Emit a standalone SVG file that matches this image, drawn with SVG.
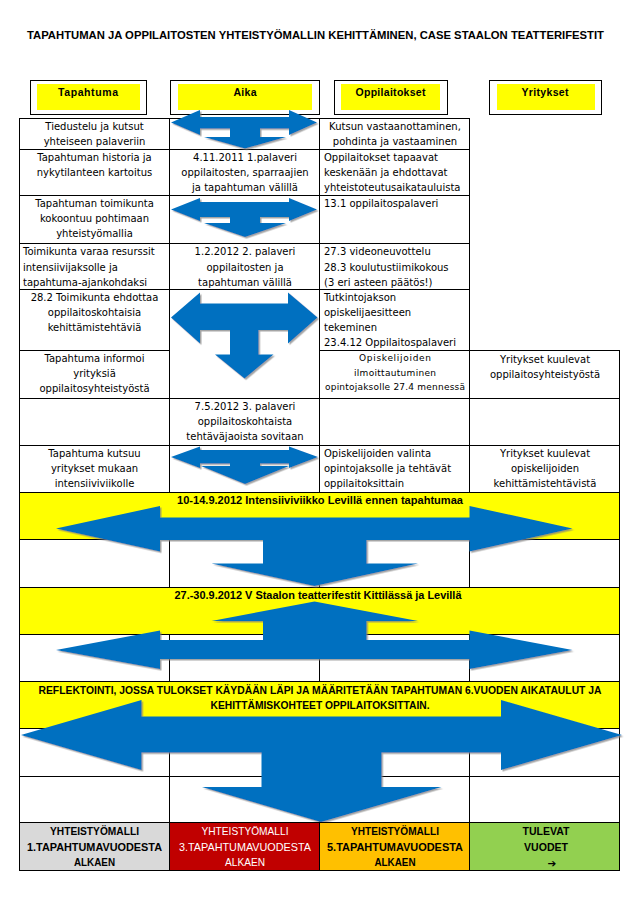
<svg xmlns="http://www.w3.org/2000/svg" width="643" height="905" viewBox="0 0 643 905">
<style>
.t{font-family:"DejaVu Sans","Liberation Sans",sans-serif;font-size:10px;fill:#000}
.c{text-anchor:middle}
.sm{font-size:9px}
.b{font-family:"Liberation Sans",Arial,sans-serif;font-weight:bold;font-size:10.5px;fill:#000;text-anchor:middle}
.w{font-family:"Liberation Sans",Arial,sans-serif;font-size:10.5px;fill:#fff;text-anchor:middle}
.cell{fill:#fff;stroke:#000;stroke-width:1}
.yb{fill:#ffff00;stroke:#000;stroke-width:1}
.hb{fill:#fff;stroke:#000;stroke-width:1}
.hy{fill:#ffff00}
.arr{fill:#0070c0;filter:url(#sh)}
</style>
<defs>
<filter id="sh" x="-5%" y="-5%" width="115%" height="115%">
<feDropShadow dx="1.5" dy="1.5" stdDeviation="0.7" flood-color="#7f7f7f" flood-opacity="0.7"/>
</filter>
</defs>
<rect width="643" height="905" fill="#fff"/>
<text id="title" class="b" x="315.5" y="39" font-size="11" textLength="577" lengthAdjust="spacingAndGlyphs">TAPAHTUMAN JA OPPILAITOSTEN YHTEISTYÖMALLIN KEHITTÄMINEN, CASE STAALON TEATTERIFESTIT</text>

<g id="table">
<g id="r1">
<rect class="cell" x="19.5" y="118.5" width="150" height="31"/>
<rect class="cell" x="169.5" y="118.5" width="150" height="31"/>
<rect class="cell" x="319.5" y="118.5" width="150" height="31"/>
<text class="t c" x="94.5" y="130">Tiedustelu ja kutsut</text>
<text class="t c" x="94.5" y="145">yhteiseen palaveriin</text>
<text class="t c" x="395" y="130">Kutsun vastaanottaminen,</text>
<text class="t c" x="395" y="145">pohdinta ja vastaaminen</text>
</g>
<g id="r2">
<rect class="cell" x="19.5" y="149.5" width="150" height="46"/>
<rect class="cell" x="169.5" y="149.5" width="150" height="46"/>
<rect class="cell" x="319.5" y="149.5" width="150" height="46"/>
<text class="t c" x="94.5" y="161">Tapahtuman historia ja</text>
<text class="t c" x="94.5" y="176">nykytilanteen kartoitus</text>
<text class="t c" x="245" y="161">4.11.2011 1.palaveri</text>
<text class="t c" x="245" y="176">oppilaitosten, sparraajien</text>
<text class="t c" x="245" y="191">ja tapahtuman välillä</text>
<text class="t" x="324" y="161">Oppilaitokset tapaavat</text>
<text class="t" x="324" y="176">keskenään ja ehdottavat</text>
<text class="t" x="324" y="191">yhteistoteutusaikatauluista</text>
</g>
<g id="r3">
<rect class="cell" x="19.5" y="195.5" width="150" height="48"/>
<rect class="cell" x="169.5" y="195.5" width="150" height="48"/>
<rect class="cell" x="319.5" y="195.5" width="150" height="48"/>
<text class="t c" x="94.5" y="207">Tapahtuman toimikunta</text>
<text class="t c" x="94.5" y="222">kokoontuu pohtimaan</text>
<text class="t c" x="94.5" y="237">yhteistyömallia</text>
<text class="t" x="324" y="207">13.1 oppilaitospalaveri</text>
</g>
<g id="r4">
<rect class="cell" x="19.5" y="243.5" width="150" height="46"/>
<rect class="cell" x="169.5" y="243.5" width="150" height="46"/>
<rect class="cell" x="319.5" y="243.5" width="150" height="46"/>
<text class="t" x="23" y="255">Toimikunta varaa resurssit</text>
<text class="t" x="23" y="270.5">intensiivijaksolle ja</text>
<text class="t" x="23" y="286">tapahtuma-ajankohdaksi</text>
<text class="t c" x="245" y="255">1.2.2012 2. palaveri</text>
<text class="t c" x="245" y="270.5">oppilaitosten ja</text>
<text class="t c" x="245" y="286">tapahtuman välillä</text>
<text class="t" x="324" y="255">27.3 videoneuvottelu</text>
<text class="t" x="324" y="270.5">28.3 koulutustiimikokous</text>
<text class="t" x="324" y="286">(3 eri asteen päätös!)</text>
</g>
<g id="r5">
<rect class="cell" x="19.5" y="289.5" width="150" height="61"/>
<rect class="cell" x="169.5" y="289.5" width="150" height="109"/>
<rect class="cell" x="319.5" y="289.5" width="150" height="61"/>
<text class="t c" x="94.5" y="301">28.2 Toimikunta ehdottaa</text>
<text class="t c" x="94.5" y="316">oppilaitoskohtaisia</text>
<text class="t c" x="94.5" y="331">kehittämistehtäviä</text>
<text class="t" x="324" y="301">Tutkintojakson</text>
<text class="t" x="324" y="316">opiskelijaesitteen</text>
<text class="t" x="324" y="331">tekeminen</text>
<text class="t" x="324" y="346">23.4.12 Oppilaitospalaveri</text>
</g>
<g id="r6">
<rect class="cell" x="19.5" y="350.5" width="150" height="48"/>
<rect class="cell" x="319.5" y="350.5" width="150" height="48"/>
<rect class="cell" x="469.5" y="350.5" width="150" height="48"/>
<text class="t c" x="94.5" y="362">Tapahtuma informoi</text>
<text class="t c" x="94.5" y="377">yrityksiä</text>
<text class="t c" x="94.5" y="392">oppilaitosyhteistyöstä</text>
<text class="t c sm" x="395" y="361" textLength="72">Opiskelijoiden</text>
<text class="t c sm" x="395" y="376" textLength="82">ilmoittautuminen</text>
<text class="t c sm" x="395" y="390" textLength="140">opintojaksolle 27.4 mennessä</text>
<text class="t c" x="545" y="363">Yritykset kuulevat</text>
<text class="t c" x="545" y="378">oppilaitosyhteistyöstä</text>
</g>
<g id="r7">
<rect class="cell" x="19.5" y="398.5" width="150" height="47"/>
<rect class="cell" x="169.5" y="398.5" width="150" height="47"/>
<rect class="cell" x="319.5" y="398.5" width="150" height="47"/>
<rect class="cell" x="469.5" y="398.5" width="150" height="47"/>
<text class="t c" x="245" y="410">7.5.2012 3. palaveri</text>
<text class="t c" x="245" y="425">oppilaitoskohtaista</text>
<text class="t c" x="245" y="440">tehtäväjaoista sovitaan</text>
</g>
<g id="r8">
<rect class="cell" x="19.5" y="445.5" width="150" height="47"/>
<rect class="cell" x="169.5" y="445.5" width="150" height="47"/>
<rect class="cell" x="319.5" y="445.5" width="150" height="47"/>
<rect class="cell" x="469.5" y="445.5" width="150" height="47"/>
<text class="t c" x="94.5" y="457">Tapahtuma kutsuu</text>
<text class="t c" x="94.5" y="472">yritykset mukaan</text>
<text class="t c" x="94.5" y="487">intensiiviviikolle</text>
<text class="t" x="324" y="457">Opiskelijoiden valinta</text>
<text class="t" x="324" y="472">opintojaksolle ja tehtävät</text>
<text class="t" x="324" y="487">oppilaitoksittain</text>
<text class="t c" x="545" y="457">Yritykset kuulevat</text>
<text class="t c" x="545" y="472">opiskelijoiden</text>
<text class="t c" x="545" y="487">kehittämistehtävistä</text>
</g>
<g id="band1">
<rect class="yb" x="19.5" y="492.5" width="600" height="47"/>
</g>
<g id="r10">
<rect class="cell" x="19.5" y="539.5" width="150" height="48"/>
<rect class="cell" x="169.5" y="539.5" width="150" height="48"/>
<rect class="cell" x="319.5" y="539.5" width="150" height="48"/>
<rect class="cell" x="469.5" y="539.5" width="150" height="48"/>
</g>
<g id="band2">
<rect class="yb" x="19.5" y="587.5" width="600" height="47"/>
</g>
<g id="r12">
<rect class="cell" x="19.5" y="634.5" width="150" height="47"/>
<rect class="cell" x="169.5" y="634.5" width="150" height="47"/>
<rect class="cell" x="319.5" y="634.5" width="150" height="47"/>
<rect class="cell" x="469.5" y="634.5" width="150" height="47"/>
</g>
<g id="band3">
<rect class="yb" x="19.5" y="681.5" width="600" height="47"/>
</g>
<g id="r14">
<rect class="cell" x="19.5" y="728.5" width="150" height="48"/>
<rect class="cell" x="169.5" y="728.5" width="150" height="48"/>
<rect class="cell" x="319.5" y="728.5" width="150" height="48"/>
<rect class="cell" x="469.5" y="728.5" width="150" height="48"/>
</g>
<g id="r15">
<rect class="cell" x="19.5" y="776.5" width="150" height="46"/>
<rect class="cell" x="169.5" y="776.5" width="150" height="46"/>
<rect class="cell" x="319.5" y="776.5" width="150" height="46"/>
<rect class="cell" x="469.5" y="776.5" width="150" height="46"/>
</g>
</g>

<g id="headers">
<g id="h-tapahtuma"><rect class="hb" x="30.5" y="80.5" width="116" height="34"/><rect class="hy" x="37" y="84" width="103" height="26"/><text class="b" x="88" y="96" font-size="10" textLength="60">Tapahtuma</text></g>
<g id="h-aika"><rect class="hb" x="170.5" y="80.5" width="149" height="34"/><rect class="hy" x="178" y="84" width="134" height="26"/><text class="b" x="245" y="96" font-size="10" textLength="23">Aika</text></g>
<g id="h-oppilaitokset"><rect class="hb" x="334.5" y="80.5" width="113" height="34"/><rect class="hy" x="341" y="84" width="99" height="26"/><text class="b" x="390.5" y="96" font-size="10" textLength="70">Oppilaitokset</text></g>
<g id="h-yritykset"><rect class="hb" x="489.5" y="80.5" width="112" height="34"/><rect class="hy" x="497" y="84" width="98" height="26"/><text class="b" x="545" y="96" font-size="10" textLength="47">Yritykset</text></g>
</g>

<g id="connectors">
<polygon class="arr" points="171,122.5 200,110 200,117 289,117 289,110 317,122.5 289,135 289,128.5 260,128.5 260,137 286,137 245,148.5 204,137 230,137 230,128.5 200,128.5 200,135"/>
<polygon class="arr" points="171,209.5 200,198 200,202 289,202 289,198 317,209.5 289,221 289,217 260,217 260,223 286,223 245,237 204,223 230,223 230,217 200,217 200,221"/>
<polygon class="arr" points="171,317.5 200,292.5 200,303.5 288,303.5 288,292.5 317.5,317.5 288,343.5 288,330 258.5,330 258.5,354.5 273.5,354.5 244.5,378.5 215,354.5 230,354.5 230,330 200,330 200,343.5"/>
<polygon class="arr" points="171,457 200,446.5 200,450 289,450 289,446.5 318,457 289,468 289,463.5 260,463.5 260,466 289,466 245,484 201,466 230,466 230,463.5 200,463.5 200,468"/>
<polygon class="arr" points="56,528.5 160,506 160,517.5 469.5,517.5 469.5,506 572.5,528.5 469.5,551.5 469.5,540 366.5,540 366.5,563.5 418,563.5 314.5,586 211.5,563.5 263,563.5 263,540 160,540 160,551.5"/>
<polygon class="arr" points="314.5,601.5 418,621 366.5,621 366.5,640 469.5,640 469.5,630.5 572.5,650 469.5,669 469.5,659 160,659 160,669 56,650 160,630.5 160,640 263,640 263,621 211.5,621"/>
<polygon class="arr" points="21,735 141.5,700 141.5,716.5 501,716.5 501,700 622,735 501,770 501,752.5 381.5,752.5 381.5,787 441.5,787 321,822 202,787 261.5,787 261.5,752.5 141.5,752.5 141.5,770"/>
</g>

<g id="band-labels">
<text class="b" x="320" y="504" textLength="286" lengthAdjust="spacingAndGlyphs">10-14.9.2012 Intensiiviviikko Levillä ennen tapahtumaa</text>
<text class="b" x="318" y="599" textLength="287" lengthAdjust="spacingAndGlyphs">27.-30.9.2012 V Staalon teatterifestit Kittilässä ja Levillä</text>
<text class="b" x="320" y="694" textLength="563" lengthAdjust="spacingAndGlyphs">REFLEKTOINTI, JOSSA TULOKSET KÄYDÄÄN LÄPI JA MÄÄRITETÄÄN TAPAHTUMAN 6.VUODEN AIKATAULUT JA</text>
<text class="b" x="320" y="709" textLength="219" lengthAdjust="spacingAndGlyphs">KEHITTÄMISKOHTEET OPPILAITOKSITTAIN.</text>
</g>

<g id="stages">
<g id="s1"><rect x="19.5" y="822.5" width="150" height="48" fill="#d9d9d9" stroke="#000"/>
<text class="b" x="94.5" y="835" textLength="89" lengthAdjust="spacingAndGlyphs">YHTEISTYÖMALLI</text>
<text class="b" x="94.5" y="851" textLength="135" lengthAdjust="spacingAndGlyphs">1.TAPAHTUMAVUODESTA</text>
<text class="b" x="94.5" y="866" textLength="41" lengthAdjust="spacingAndGlyphs">ALKAEN</text></g>
<g id="s3"><rect x="169.5" y="822.5" width="150" height="48" fill="#c00000" stroke="#000"/>
<text class="w" x="245" y="835" textLength="87" lengthAdjust="spacingAndGlyphs">YHTEISTYÖMALLI</text>
<text class="w" x="245" y="851" textLength="132" lengthAdjust="spacingAndGlyphs">3.TAPAHTUMAVUODESTA</text>
<text class="w" x="245" y="866" textLength="40" lengthAdjust="spacingAndGlyphs">ALKAEN</text></g>
<g id="s5"><rect x="319.5" y="822.5" width="150" height="48" fill="#ffc000" stroke="#000"/>
<text class="b" x="395" y="835" textLength="88" lengthAdjust="spacingAndGlyphs">YHTEISTYÖMALLI</text>
<text class="b" x="395" y="851" textLength="136" lengthAdjust="spacingAndGlyphs">5.TAPAHTUMAVUODESTA</text>
<text class="b" x="395" y="866" textLength="41" lengthAdjust="spacingAndGlyphs">ALKAEN</text></g>
<g id="sf"><rect x="469.5" y="822.5" width="150" height="48" fill="#92d050" stroke="#000"/>
<text class="b" x="546" y="835" textLength="47" lengthAdjust="spacingAndGlyphs">TULEVAT</text>
<text class="b" x="546" y="851" textLength="44" lengthAdjust="spacingAndGlyphs">VUODET</text>
<text class="b" x="552" y="867" font-size="13" style="font-family:'DejaVu Sans',sans-serif">➔</text></g>
</g>
</svg>
